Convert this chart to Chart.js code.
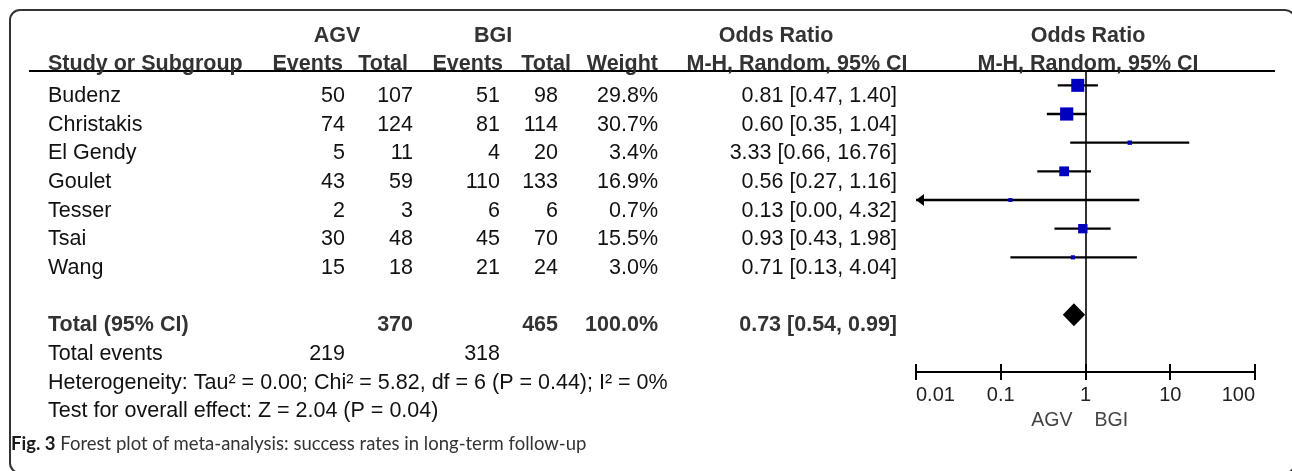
<!DOCTYPE html>
<html>
<head>
<meta charset="utf-8">
<title>Forest plot: success rates in long-term follow-up</title>
<script src="https://cdn.jsdelivr.net/npm/chart.js@4.4.0/dist/chart.umd.min.js"></script>
<style>
  html, body { margin: 0; padding: 0; background: #fff; }
  body { width: 1292px; height: 471px; overflow: hidden; position: relative; }
  #frame {
    position: absolute; left: 9px; top: 9px; width: 1287px; height: 465px;
    box-sizing: border-box; border: 2px solid #333; border-radius: 11px;
  }
  #forest { position: absolute; left: 0; top: 0; }
  #caption {
    position: absolute; left: 11px; top: 432px; white-space: nowrap;
    font: 18.5px Lato, "Open Sans", sans-serif; color: #333;
  }
  #caption b { color: #1a1a1a; font-weight: 700; }
</style>
</head>
<body>
<div id="frame"></div>
<canvas id="forest" width="1292" height="471"></canvas>
<div id="caption"><b>Fig. 3</b> Forest plot of meta-analysis: success rates in long-term follow-up</div>

<script>
// ---- study data ----
const studies   = ['Budenz', 'Christakis', 'El Gendy', 'Goulet', 'Tesser', 'Tsai', 'Wang'];
const agvEvents = [50, 74, 5, 43, 2, 30, 15];
const agvTotal  = [107, 124, 11, 59, 3, 48, 18];
const bgiEvents = [51, 81, 4, 110, 6, 45, 21];
const bgiTotal  = [98, 114, 20, 133, 6, 70, 24];
const weights   = [29.8, 30.7, 3.4, 16.9, 0.7, 15.5, 3.0];
const oddsRatio = [0.81, 0.60, 3.33, 0.56, 0.13, 0.93, 0.71];
const ciLower   = [0.47, 0.35, 0.66, 0.27, 0.00, 0.43, 0.13];
const ciUpper   = [1.40, 1.04, 16.76, 1.16, 4.32, 1.98, 4.04];

// pooled random-effects estimate
const pooledOR    = 0.73;
const pooledLower = 0.54;
const pooledUpper = 0.99;
const pooledWeight = 100.0;

// axis
const tickValues = [0.01, 0.1, 1, 10, 100];
const tickLabels = ['0.01', '0.1', '1', '10', '100'];
const groupNames = ['AGV', 'BGI'];

const heterogeneityText = 'Heterogeneity: Tau\u00b2 = 0.00; Chi\u00b2 = 5.82, df = 6 (P = 0.44); I\u00b2 = 0%';
const overallEffectText = 'Test for overall effect: Z = 2.04 (P = 0.04)';

// ---- layout helpers ----
const FONT = '"Liberation Sans", Arial, Helvetica, sans-serif';
const TEXT_SIZE = 21.5;
const TOTAL_ROW = studies.length + 1;   // one blank row before the pooled line
const sum = a => a.reduce((s, v) => s + v, 0);
const fmt2 = v => v.toFixed(2);
const squareSide = w => Math.max(4, 2.38 * Math.sqrt(w));

// right edges / anchors of the table columns
const COL = {
  name: 48, agvEv: 345, agvTot: 413, bgiEv: 500, bgiTot: 558, weight: 658, ci: 897,
  hAgvEv: 343, hAgvTot: 408, hBgiEv: 503, hBgiTot: 571, hWeight: 658,
  agvMid: 337, bgiMid: 493, orTitleMid: 776, orMid: 797, plotMid: 1088
};

function text(ctx, s, x, y, align, bold, color, size) {
  ctx.font = (bold ? 'bold ' : '') + (size || TEXT_SIZE) + 'px ' + FONT;
  ctx.fillStyle = color || '#111';
  ctx.textAlign = align;
  ctx.textBaseline = 'alphabetic';
  ctx.fillText(s, x, y);
}

const forestPlugin = {
  id: 'forestTable',
  beforeDatasetsDraw(chart) {
    const { ctx, chartArea, scales: { x } } = chart;
    // line of no effect at OR = 1
    const x1 = Math.round(x.getPixelForValue(1));
    ctx.save();
    ctx.strokeStyle = '#333';
    ctx.lineWidth = 2;
    ctx.beginPath();
    ctx.moveTo(x1, chartArea.top);
    ctx.lineTo(x1, chartArea.bottom);
    ctx.stroke();
    ctx.restore();
  },
  afterDatasetsDraw(chart) {
    const { ctx, scales: { x, y } } = chart;
    ctx.save();
    // arrows for intervals running past the axis
    ctx.fillStyle = '#000';
    studies.forEach((s, i) => {
      if (ciLower[i] < x.min) {
        const tip = x.getPixelForValue(x.min);
        const yc = y.getPixelForValue(i);
        ctx.beginPath();
        ctx.moveTo(tip, yc);
        ctx.lineTo(tip + 8, yc - 6);
        ctx.lineTo(tip + 8, yc + 6);
        ctx.closePath();
        ctx.fill();
      }
    });
    // pooled diamond
    const xl = x.getPixelForValue(pooledLower);
    const xr = x.getPixelForValue(pooledUpper);
    const xc = x.getPixelForValue(pooledOR);
    const yc = y.getPixelForValue(TOTAL_ROW);
    ctx.beginPath();
    ctx.moveTo(xl, yc);
    ctx.lineTo(xc, yc - 11.5);
    ctx.lineTo(xr, yc);
    ctx.lineTo(xc, yc + 11.5);
    ctx.closePath();
    ctx.fill();
    ctx.restore();
  },
  afterDraw(chart) {
    const { ctx, chartArea, scales: { x, y } } = chart;
    ctx.save();

    // tick marks crossing the axis line
    ctx.strokeStyle = '#000';
    ctx.lineWidth = 2;
    tickValues.forEach(v => {
      const px = Math.round(x.getPixelForValue(v));
      ctx.beginPath();
      ctx.moveTo(px, chartArea.bottom - 8);
      ctx.lineTo(px, chartArea.bottom + 8);
      ctx.stroke();
    });

    // header rule
    ctx.beginPath();
    ctx.moveTo(29, chartArea.top);
    ctx.lineTo(1275, chartArea.top);
    ctx.stroke();

    // group labels under the axis
    const x1 = x.getPixelForValue(1);
    ctx.font = '19.5px ' + FONT;
    ctx.fillStyle = '#444';
    ctx.textBaseline = 'middle';
    ctx.textAlign = 'right';
    ctx.fillText(groupNames[0], x1 - 13, chartArea.bottom + 49);
    ctx.textAlign = 'left';
    ctx.fillText(groupNames[1], x1 + 9, chartArea.bottom + 49);

    // table headings
    const hc = '#333';
    const h1 = y.getPixelForValue(-2) + 14;
    const h2 = y.getPixelForValue(-1) + 13.5;
    text(ctx, groupNames[0], COL.agvMid, h1, 'center', true, hc);
    text(ctx, groupNames[1], COL.bgiMid, h1, 'center', true, hc);
    text(ctx, 'Odds Ratio', COL.orTitleMid, h1, 'center', true, hc);
    text(ctx, 'Odds Ratio', COL.plotMid, h1, 'center', true, hc);
    text(ctx, 'Study or Subgroup', COL.name, h2, 'left', true, hc);
    text(ctx, 'Events', COL.hAgvEv, h2, 'right', true, hc);
    text(ctx, 'Total', COL.hAgvTot, h2, 'right', true, hc);
    text(ctx, 'Events', COL.hBgiEv, h2, 'right', true, hc);
    text(ctx, 'Total', COL.hBgiTot, h2, 'right', true, hc);
    text(ctx, 'Weight', COL.hWeight, h2, 'right', true, hc);
    text(ctx, 'M-H, Random, 95% CI', COL.orMid, h2, 'center', true, hc);
    text(ctx, 'M-H, Random, 95% CI', COL.plotMid, h2, 'center', true, hc);

    // study rows
    const base = r => y.getPixelForValue(r) + 16.5;
    studies.forEach((s, i) => {
      const b = base(i);
      text(ctx, s, COL.name, b, 'left');
      text(ctx, String(agvEvents[i]), COL.agvEv, b, 'right');
      text(ctx, String(agvTotal[i]), COL.agvTot, b, 'right');
      text(ctx, String(bgiEvents[i]), COL.bgiEv, b, 'right');
      text(ctx, String(bgiTotal[i]), COL.bgiTot, b, 'right');
      text(ctx, weights[i].toFixed(1) + '%', COL.weight, b, 'right');
      text(ctx, fmt2(oddsRatio[i]) + ' [' + fmt2(ciLower[i]) + ', ' + fmt2(ciUpper[i]) + ']', COL.ci, b, 'right');
    });

    // pooled rows
    const bt = base(TOTAL_ROW);
    text(ctx, 'Total (95% CI)', COL.name, bt, 'left', true, hc);
    text(ctx, String(sum(agvTotal)), COL.agvTot, bt, 'right', true, hc);
    text(ctx, String(sum(bgiTotal)), COL.bgiTot, bt, 'right', true, hc);
    text(ctx, pooledWeight.toFixed(1) + '%', COL.weight, bt, 'right', true, hc);
    text(ctx, fmt2(pooledOR) + ' [' + fmt2(pooledLower) + ', ' + fmt2(pooledUpper) + ']', COL.ci, bt, 'right', true, hc);

    const be = base(TOTAL_ROW + 1);
    text(ctx, 'Total events', COL.name, be, 'left');
    text(ctx, String(sum(agvEvents)), COL.agvEv, be, 'right');
    text(ctx, String(sum(bgiEvents)), COL.bgiEv, be, 'right');

    text(ctx, heterogeneityText, COL.name, base(TOTAL_ROW + 2), 'left');
    text(ctx, overallEffectText, COL.name, base(TOTAL_ROW + 3), 'left');

    ctx.restore();
  }
};

// confidence-interval segments, one per study (open-ended ones are clipped at the axis minimum)
const ciDatasets = studies.map((s, i) => ({
  label: s + ' 95% CI',
  data: [
    { x: Math.max(ciLower[i], tickValues[0]), y: i },
    { x: ciUpper[i], y: i }
  ],
  showLine: true,
  borderColor: '#000',
  borderWidth: 2.4,
  pointRadius: 0,
  clip: false
}));

const squareDataset = {
  label: 'Study odds ratio',
  data: studies.map((s, i) => ({ x: oddsRatio[i], y: i })),
  pointStyle: 'rect',
  pointRadius: c => squareSide(weights[c.dataIndex]) / Math.SQRT2,
  backgroundColor: '#0000bf',
  borderWidth: 0,
  clip: false
};

new Chart(document.getElementById('forest'), {
  type: 'scatter',
  data: { datasets: [squareDataset, ...ciDatasets] },
  options: {
    responsive: false,
    animation: false,
    devicePixelRatio: 1,
    events: [],
    layout: { padding: { left: 916, right: 37, top: 71, bottom: 54 } },
    plugins: { legend: { display: false }, tooltip: { enabled: false } },
    scales: {
      x: {
        type: 'logarithmic',
        min: tickValues[0],
        max: tickValues[tickValues.length - 1],
        afterBuildTicks: s => { s.ticks = tickValues.map(v => ({ value: v })); },
        afterFit: s => { s.height = 45; },
        grid: { display: true, drawOnChartArea: false, drawTicks: true, tickLength: 8, color: 'rgba(0,0,0,0)' },
        border: { display: true, color: '#000', width: 2 },
        ticks: {
          autoSkip: false, maxRotation: 0, minRotation: 0, align: 'inner', padding: 3,
          color: '#222', font: { family: FONT, size: 20 },
          callback: (v, i) => tickLabels[i]
        }
      },
      y: { type: 'linear', reverse: true, min: -0.5, max: 10, display: false }
    }
  },
  plugins: [forestPlugin]
});
</script>
</body>
</html>
